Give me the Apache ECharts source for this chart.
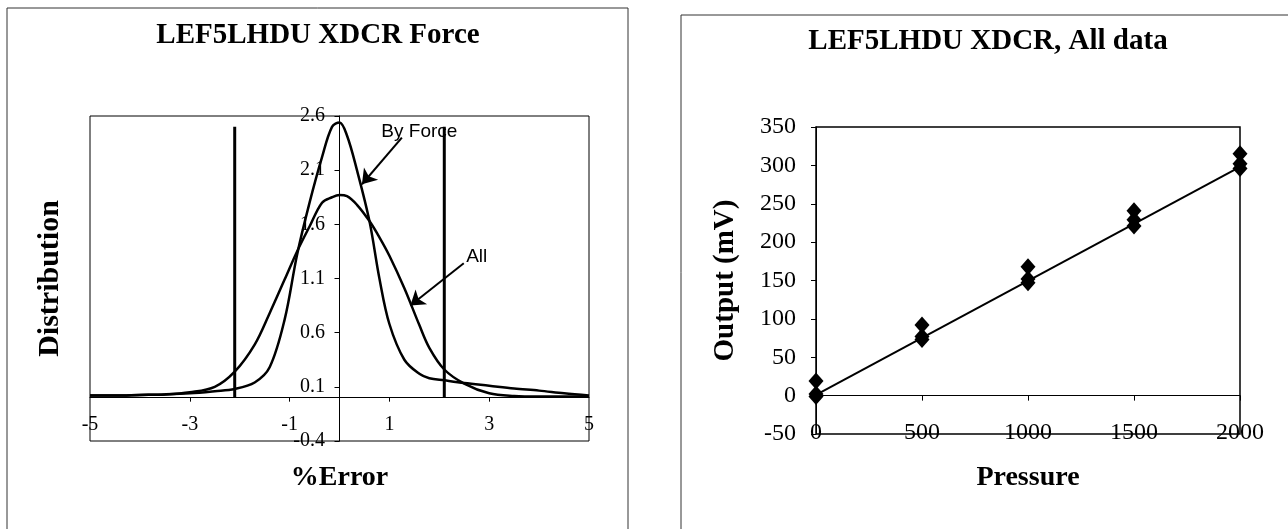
<!DOCTYPE html>
<html>
<head>
<meta charset="utf-8">
<script src="https://cdn.jsdelivr.net/npm/echarts@6/dist/echarts.min.js"></script>
<style>
  html, body { margin: 0; padding: 0; background: #fff; }
  #main { width: 1288px; height: 529px; }
</style>
</head>
<body>
<div id="main"></div>
<script>
// left chart: distribution curves vs %Error
const errX = [-5, -4.5, -4, -3.5, -3, -2.5, -2.1, -1.7, -1.4, -1.1, -0.85, -0.6, -0.35, -0.15, 0, 0.15, 0.35, 0.6, 0.8, 1.0, 1.3, 1.6, 1.8, 2.1, 2.5, 3, 3.5, 4, 4.5, 5];
const byForce = [0.02, 0.02, 0.025, 0.03, 0.04, 0.06, 0.08, 0.14, 0.28, 0.72, 1.32, 1.80, 2.22, 2.50, 2.54, 2.42, 2.1, 1.63, 1.10, 0.68, 0.35, 0.22, 0.18, 0.16, 0.135, 0.11, 0.085, 0.065, 0.04, 0.02];
const allData = [0.02, 0.02, 0.025, 0.03, 0.05, 0.10, 0.24, 0.49, 0.78, 1.09, 1.35, 1.58, 1.80, 1.85, 1.87, 1.86, 1.78, 1.63, 1.48, 1.31, 1.01, 0.67, 0.46, 0.26, 0.13, 0.04, 0.015, 0.01, 0.01, 0.01];
const limitX = [-2.1, 2.1];
const limitTop = 2.5;
const errTicks = [-5, -3, -1, 1, 3, 5];
const distTicks = [-0.4, 0.1, 0.6, 1.1, 1.6, 2.1, 2.6];

// right chart: output vs pressure
const pressure = [0, 0, 0, 500, 500, 500, 1000, 1000, 1000, 1500, 1500, 1500, 2000, 2000, 2000];
const outputMv = [19, 2, -1, 92, 77, 73, 168, 152, 147, 241, 229, 221, 315, 302, 296];
const fitX = [0, 2000];
const fitY = [1, 298];

// annotation arrows (data coords): [tailX, tailY, headX, headY]
const forceArrow = [1.25, 2.40, 0.45, 1.97];
const allArrow = [2.49, 1.24, 1.42, 0.85];

const serif = "'Liberation Serif', 'Times New Roman', serif";
const sans = "'Liberation Sans', Arial, sans-serif";

const chart = echarts.init(document.getElementById("main"));

function zip(xs, ys) {
  return xs.map((x, i) => [x, ys[i]]);
}

function arrow(a) {
  return [
    { coord: [a[0], a[1]], symbol: "none" },
    { coord: [a[2], a[3]], symbol: "arrow" }
  ];
}

const curveStyle = { color: "#000", width: 2.5 };
const nameFont = { fontFamily: serif, fontWeight: "bold", fontSize: 28, color: "#000" };

const option = {
  animation: false,
  backgroundColor: "#fff",
  graphic: [
    { type: "rect", shape: { x: 7, y: 8, width: 621, height: 540 }, style: { fill: "none", stroke: "#333", lineWidth: 1 } },
    { type: "rect", shape: { x: 681, y: 15, width: 640, height: 540 }, style: { fill: "none", stroke: "#333", lineWidth: 1 } },
    { type: "text", x: 318, y: 36, style: { text: "LEF5LHDU XDCR Force", fontFamily: serif, fontWeight: "bold", fontSize: 29, fill: "#000", align: "center", verticalAlign: "middle" } },
    { type: "text", x: 988, y: 42, style: { text: "LEF5LHDU XDCR, All data", fontFamily: serif, fontWeight: "bold", fontSize: 29, fill: "#000", align: "center", verticalAlign: "middle" } }
  ],
  grid: [
    { left: 90, top: 116, width: 499, height: 325, show: true, borderColor: "#000", borderWidth: 1, outerBoundsMode: "none", containLabel: false },
    { left: 816, top: 127, width: 424, height: 307, show: true, borderColor: "#000", borderWidth: 1.5, outerBoundsMode: "none", containLabel: false }
  ],
  xAxis: [
    {
      gridIndex: 0, type: "value", min: -5, max: 5,
      name: "%Error", nameLocation: "middle", nameGap: 23, nameTextStyle: nameFont,
      axisLine: { onZero: true, lineStyle: { color: "#000", width: 1 } },
      axisTick: { show: true, length: 4, customValues: [-3, -1, 1, 3], lineStyle: { color: "#000" } },
      axisLabel: { customValues: errTicks, margin: -26, fontFamily: serif, fontSize: 20, color: "#000" },
      splitLine: { show: false }
    },
    {
      gridIndex: 1, type: "value", min: 0, max: 2000, interval: 500,
      name: "Pressure", nameLocation: "middle", nameGap: 30, nameTextStyle: nameFont,
      axisLine: { onZero: true, lineStyle: { color: "#000", width: 1 } },
      axisTick: { show: true, length: 5, lineStyle: { color: "#000" } },
      axisLabel: { margin: -13, fontFamily: serif, fontSize: 24, color: "#000", formatter: (v) => String(v) },
      splitLine: { show: false }
    }
  ],
  yAxis: [
    {
      gridIndex: 0, type: "value", min: -0.4, max: 2.6,
      name: "Distribution", nameLocation: "middle", nameGap: 25,
      nameTextStyle: { fontFamily: serif, fontWeight: "bold", fontSize: 30, color: "#000" },
      axisLine: { onZero: true, lineStyle: { color: "#000", width: 1 } },
      axisTick: { show: true, length: 5, customValues: distTicks, lineStyle: { color: "#000" } },
      axisLabel: { customValues: distTicks, margin: -235, fontFamily: serif, fontSize: 20, color: "#000", formatter: (v) => v.toFixed(1) },
      splitLine: { show: false }
    },
    {
      gridIndex: 1, type: "value", min: -50, max: 350, interval: 50,
      name: "Output (mV)", nameLocation: "middle", nameGap: 76,
      nameTextStyle: { fontFamily: serif, fontWeight: "bold", fontSize: 29, color: "#000" },
      axisLine: { onZero: true, lineStyle: { color: "#000", width: 1 } },
      axisTick: { show: true, length: 5, lineStyle: { color: "#000" } },
      axisLabel: { margin: 20, fontFamily: serif, fontSize: 24, color: "#000" },
      splitLine: { show: false }
    }
  ],
  series: [
    {
      name: "By Force", type: "line", xAxisIndex: 0, yAxisIndex: 0,
      data: zip(errX, byForce), smooth: 0.35, showSymbol: false,
      lineStyle: curveStyle, z: 3,
      markLine: {
        silent: true, symbolSize: 14,
        lineStyle: { color: "#000", width: 2, type: "solid" },
        label: { show: false },
        data: [arrow(forceArrow)]
      },
      markPoint: {
        symbol: "circle", symbolSize: 0,
        label: { show: true, position: "inside", formatter: "By Force", fontFamily: sans, fontSize: 19, color: "#000" },
        data: [{ coord: [1.6, 2.45] }]
      }
    },
    {
      name: "All", type: "line", xAxisIndex: 0, yAxisIndex: 0,
      data: zip(errX, allData), smooth: 0.35, showSymbol: false,
      lineStyle: curveStyle, z: 3,
      markLine: {
        silent: true, symbolSize: 14,
        lineStyle: { color: "#000", width: 2, type: "solid" },
        label: { show: false },
        data: [arrow(allArrow)]
      },
      markPoint: {
        symbol: "circle", symbolSize: 0,
        label: { show: true, position: "inside", formatter: "All", fontFamily: sans, fontSize: 19, color: "#000" },
        data: [{ coord: [2.75, 1.30] }]
      }
    },
    {
      name: "lower limit", type: "line", xAxisIndex: 0, yAxisIndex: 0,
      data: [[limitX[0], 0], [limitX[0], limitTop]], showSymbol: false,
      lineStyle: { color: "#000", width: 3 }, z: 3
    },
    {
      name: "upper limit", type: "line", xAxisIndex: 0, yAxisIndex: 0,
      data: [[limitX[1], 0], [limitX[1], limitTop]], showSymbol: false,
      lineStyle: { color: "#000", width: 3 }, z: 3
    },
    {
      name: "Output", type: "scatter", xAxisIndex: 1, yAxisIndex: 1,
      data: zip(pressure, outputMv), symbol: "diamond", symbolSize: [15, 17],
      itemStyle: { color: "#000", opacity: 1 }, z: 4
    },
    {
      name: "Fit", type: "line", xAxisIndex: 1, yAxisIndex: 1,
      data: zip(fitX, fitY), showSymbol: false,
      lineStyle: { color: "#000", width: 2 }, z: 3
    }
  ]
};

chart.setOption(option);
</script>
</body>
</html>
